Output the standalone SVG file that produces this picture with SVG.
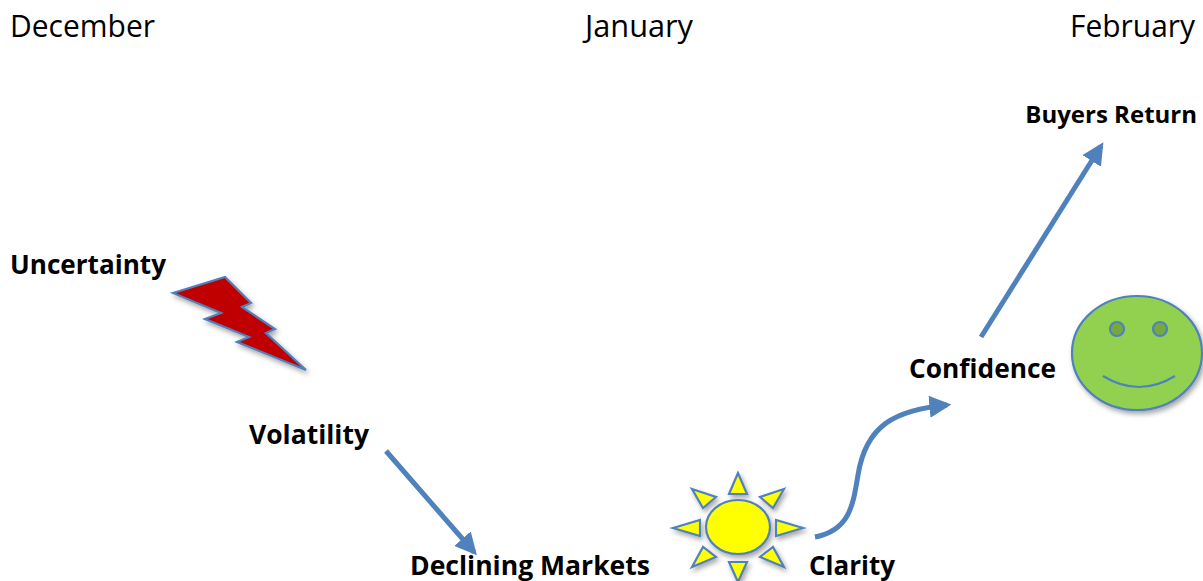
<svg xmlns="http://www.w3.org/2000/svg" width="1203" height="581" viewBox="0 0 1203 581">
<style>
.month{font-family:"Open Sans","Liberation Sans",sans-serif;font-size:31px;fill:#000}
.lbl{font-family:"Open Sans","Liberation Sans",sans-serif;font-size:27px;font-weight:bold;fill:#000}
.conn{fill:none;stroke:#4F81BD;stroke-width:5;stroke-linecap:butt}
.shape{stroke:#4F81BD;stroke-width:2.2;stroke-linejoin:miter}
</style>
<defs>
<marker id="ah" viewBox="0 0 10 10" refX="8" refY="5" markerWidth="4.4" markerHeight="4.4" orient="auto" markerUnits="strokeWidth">
<path d="M0,0 L10,5 L0,10 Z" fill="#4F81BD"/>
</marker>
<filter id="sh" x="-20%" y="-20%" width="150%" height="150%">
<feDropShadow dx="2" dy="3" stdDeviation="2.5" flood-color="#000" flood-opacity="0.35"/>
</filter>
</defs>
<rect width="1203" height="581" fill="#fff"/>
<g id="months">
<text class="month" x="10" y="37" textLength="145" lengthAdjust="spacingAndGlyphs">December</text>
<text class="month" x="585" y="37" textLength="108" lengthAdjust="spacingAndGlyphs">January</text>
<text class="month" x="1195" y="37" text-anchor="end" textLength="125" lengthAdjust="spacingAndGlyphs">February</text>
</g>
<g id="connectors">
<line class="conn" x1="386" y1="451" x2="474" y2="552" marker-end="url(#ah)"/>
<path class="conn" d="M815,537 C850,530 853,505 858,475 C866,425 895,410 947,405" marker-end="url(#ah)"/>
<line class="conn" x1="981" y1="337" x2="1101" y2="146" marker-end="url(#ah)"/>
</g>
<g id="uncertainty">
<text class="lbl" x="10" y="274" textLength="156" lengthAdjust="spacingAndGlyphs">Uncertainty</text>
<polygon class="shape" filter="url(#sh)" fill="#C00000" points="173,293 225,277 251,303 242,307 275,329 266,333 306,370 237,342 249,337 205,319 221,313"/>
</g>
<g id="volatility">
<text class="lbl" x="249" y="444" textLength="120" lengthAdjust="spacingAndGlyphs">Volatility</text>
</g>
<g id="declining-markets">
<text class="lbl" x="410" y="575" textLength="240" lengthAdjust="spacingAndGlyphs">Declining Markets</text>
</g>
<g id="clarity">
<g filter="url(#sh)" fill="#FFFF00" class="shape">
<ellipse cx="738" cy="527" rx="32" ry="27"/>
<polygon points="738,473 729,494 747,494"/>
<polygon points="738,582 729,562 747,562"/>
<polygon points="673,528 700,520 700,536"/>
<polygon points="803,528 776,520 776,536"/>
<polygon points="692,489 716,497 703,508"/>
<polygon points="784,489 760,497 773,508"/>
<polygon points="692,567 703,547 716,557"/>
<polygon points="784,567 773,547 760,557"/>
</g>
<text class="lbl" x="809" y="575" textLength="86" lengthAdjust="spacingAndGlyphs">Clarity</text>
</g>
<g id="confidence">
<text class="lbl" x="909" y="378" textLength="147" lengthAdjust="spacingAndGlyphs">Confidence</text>
<g filter="url(#sh)">
<ellipse class="shape" cx="1137" cy="353" rx="65" ry="57" fill="#92D050"/>
</g>
<circle class="shape" cx="1117" cy="329" r="7" fill="#77A83A"/>
<circle class="shape" cx="1160" cy="329" r="7" fill="#77A83A"/>
<path d="M1103,376 Q1139,398 1175,376" fill="none" stroke="#4F81BD" stroke-width="2.2"/>
</g>
<g id="buyers-return">
<text class="lbl" x="1197" y="123" text-anchor="end" style="font-size:24px">Buyers Return</text>
</g>
</svg>
